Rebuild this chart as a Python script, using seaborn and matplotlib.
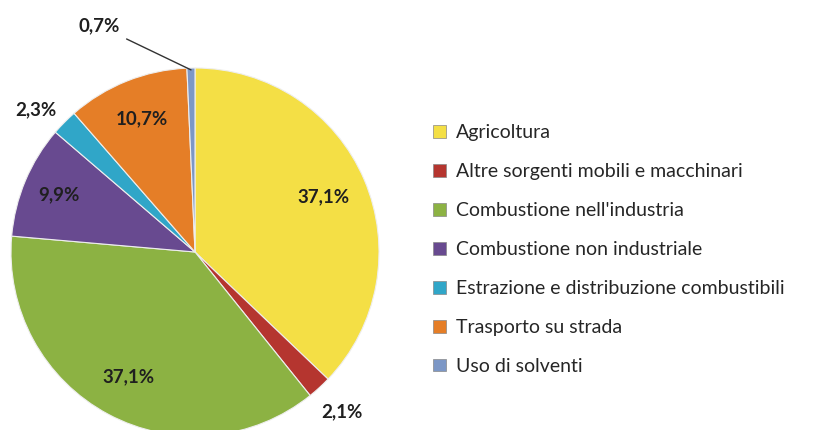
import matplotlib
matplotlib.use("Agg")
import matplotlib.pyplot as plt
import seaborn as sns
from matplotlib.patches import Patch
import numpy as np

categorie = [
    "Agricoltura",
    "Altre sorgenti mobili e macchinari",
    "Combustione nell'industria",
    "Combustione non industriale",
    "Estrazione e distribuzione combustibili",
    "Trasporto su strada",
    "Uso di solventi",
]
percentuali = [37.1, 2.1, 37.1, 9.9, 2.3, 10.7, 0.7]
etichette = ["37,1%", "2,1%", "37,1%", "9,9%", "2,3%", "10,7%", "0,7%"]
colori = ["#F4DF45", "#B5352F", "#8CB243", "#684A90", "#30A6C8", "#E57E27", "#7C97C6"]

sns.set_style("white")
plt.rcParams["font.family"] = ["Lato", "DejaVu Sans"]
palette = sns.color_palette(colori)

fig = plt.figure(figsize=(8.19, 4.30), dpi=100)
# centro torta a (195, 252) px dall'alto, raggio ~184 px
R = 184
ax = fig.add_axes([(195 - 1.25 * R) / 819, (178 - 1.25 * R) / 430,
                   2.5 * R / 819, 2.5 * R / 430])
wedges, _ = ax.pie(percentuali, colors=palette, startangle=90, counterclock=False,
                   wedgeprops=dict(edgecolor="#eeeeee", linewidth=0.8))
ax.set_xlim(-1.25, 1.25)
ax.set_ylim(-1.25, 1.25)
ax.set_aspect("equal")

# etichette: dentro per fette grandi, fuori per le piccole
distanze = [0.76, 1.18, 0.77, 0.80, 1.16, 0.78, None]
scarti = [0, 0, 0, 0, 3, 0, 0]  # piccola rotazione in gradi
for w, lab, d, s in zip(wedges, etichette, distanze, scarti):
    ang = np.deg2rad((w.theta1 + w.theta2) / 2 + s)
    if d is None:
        xe, ye = np.cos(ang), np.sin(ang)
        ax.annotate(lab, xy=(xe * 0.99, ye * 0.99), xytext=(-0.41, 1.23),
                    ha="right", va="center", fontsize=13.5, fontweight="bold",
                    color="#1f1f1f", annotation_clip=False,
                    arrowprops=dict(arrowstyle="-", color="#333333", lw=1,
                                    shrinkA=3, shrinkB=0))
    else:
        ax.text(d * np.cos(ang), d * np.sin(ang), lab, ha="center", va="center",
                fontsize=13.5, fontweight="bold", color="#1f1f1f", clip_on=False)

handles = [Patch(facecolor=c, edgecolor="#888888", linewidth=0.5) for c in colori]
fig.legend(handles, categorie, loc="upper left", bbox_to_anchor=(433 / 819, 1 - 124 / 430),
           frameon=False, fontsize=14, handlelength=0.65, handleheight=0.65,
           handletextpad=0.55, labelspacing=1.13, borderaxespad=0, borderpad=0)

fig.savefig("out.png", dpi=100, facecolor="white")
